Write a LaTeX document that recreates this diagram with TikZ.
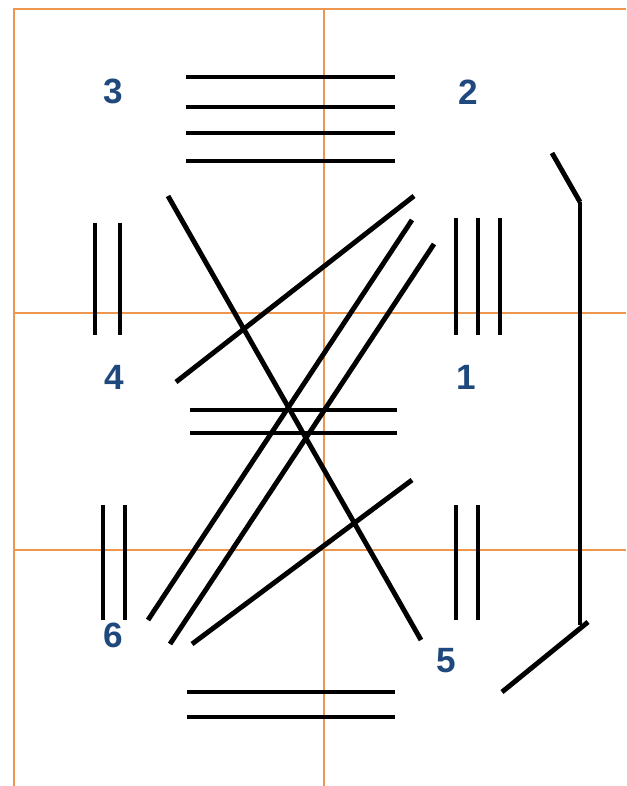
\documentclass[tikz,border=0pt]{standalone}
\usepackage{fontspec}
\setmainfont{Liberation Sans}
\definecolor{gridorange}{RGB}{236,150,80}
\definecolor{labelblue}{RGB}{31,73,125}
\tikzset{
  stick/.style={line width=2.8pt, black},
  guide/.style={line width=0.7pt, gridorange},
  num/.style={font=\fontsize{20}{22}\selectfont\bfseries, text=labelblue, inner sep=0pt},
}

\begin{document}
\begin{tikzpicture}[x=0.02cm, y=-0.02cm]
  \useasboundingbox (0,0) rectangle (626,786);
  % guide lines
  \draw[guide] (14,786) -- (14,9) -- (626,9);
  \draw[guide] (324,9) -- (324,786);
  \draw[guide] (14,313) -- (626,313);
  \draw[guide] (14,550) -- (626,550);

  % numbers
  \node[num] (n3) at (113,91) {3};
  \node[num] (n2) at (468,92) {2};
  \node[num] (n4) at (114,377) {4};
  \node[num] (n1) at (466,377) {1};
  \node[num] (n6) at (113,635) {6};
  \node[num] (n5) at (446,661) {5};

  % horizontal sticks
  \draw[stick] (186,77) -- (395,77);
  \draw[stick] (186,107) -- (395,107);
  \draw[stick] (186,133) -- (395,133);
  \draw[stick] (186,161) -- (395,161);
  \draw[stick] (190,410) -- (397,410);
  \draw[stick] (190,433) -- (397,433);
  \draw[stick] (187,692) -- (395,692);
  \draw[stick] (187,717) -- (395,717);

  % vertical sticks
  \draw[stick] (95,223) -- (95,335);
  \draw[stick] (120,223) -- (120,335);
  \draw[stick] (456,218) -- (456,335);
  \draw[stick] (478,218) -- (478,335);
  \draw[stick] (500,218) -- (500,335);
  \draw[stick] (103,505) -- (103,620);
  \draw[stick] (125,505) -- (125,620);
  \draw[stick] (456,505) -- (456,620);
  \draw[stick] (478,505) -- (478,620);

  % crossing sticks
  \coordinate (ta) at (168,196);
  \coordinate (tb) at (414,196);
  \coordinate (tc) at (412,220);
  \coordinate (td) at (434,244);
  \coordinate (te) at (412,480);
  \coordinate (ba) at (421,640);
  \coordinate (bb) at (176,382);
  \coordinate (bc) at (148,620);
  \coordinate (bd) at (170,644);
  \coordinate (be) at (192,644);
  \draw[stick] (ta) -- (ba);
  \draw[stick] (tb) -- (bb);
  \draw[stick] (tc) -- (bc);
  \draw[stick] (td) -- (bd);
  \draw[stick] (te) -- (be);

  % bracket on the right
  \coordinate (r1) at (552,153);
  \coordinate (r2) at (580,202);
  \coordinate (r3) at (580,625);
  \coordinate (r4) at (588,622);
  \coordinate (r5) at (502,692);
  \draw[stick] (r1) -- (r2);
  \draw[stick] (r2) -- (r3);
  \draw[stick] (r4) -- (r5);
\end{tikzpicture}
\end{document}
